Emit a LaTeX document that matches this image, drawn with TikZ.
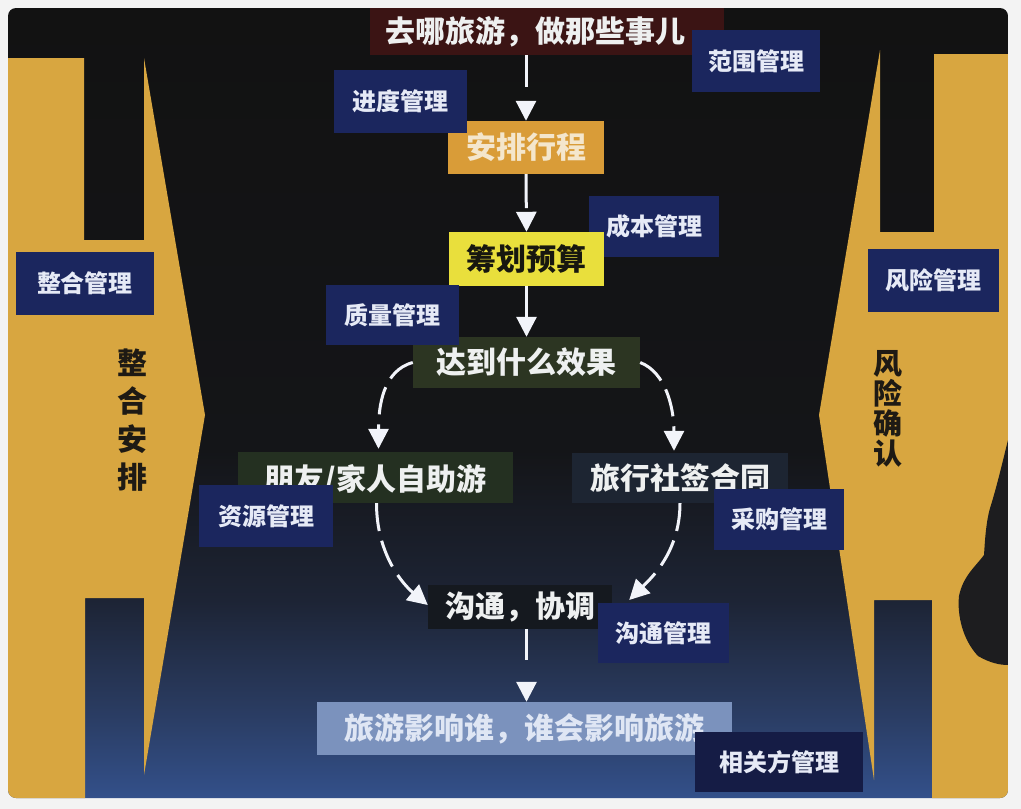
\documentclass[tikz,border=0pt]{standalone}
\usepackage{fontspec}
\setmainfont{Noto Sans CJK SC}
\usetikzlibrary{arrows.meta}
\definecolor{pagegray}{HTML}{F3F3F3}
\definecolor{scrtop}{HTML}{121212}
\definecolor{scrmid}{HTML}{141518}
\definecolor{scrlow}{HTML}{1D2435}
\definecolor{scrlow2}{HTML}{293A5E}
\definecolor{scrbot}{HTML}{33508A}
\definecolor{yel}{HTML}{D8A640}
\definecolor{vtxt}{HTML}{1E1A14}
\definecolor{mgblue}{HTML}{1B265E}
\definecolor{mgdark}{HTML}{151C45}
\definecolor{mgtext}{HTML}{E6EAF6}
\definecolor{topbox}{HTML}{3B1414}
\definecolor{orangebox}{HTML}{D99C38}
\definecolor{orangetxt}{HTML}{F4E6CC}
\definecolor{yelbox}{HTML}{E9DF3C}
\definecolor{yeltxt}{HTML}{17170F}
\definecolor{effbox}{HTML}{2C3522}
\definecolor{friendbox}{HTML}{243021}
\definecolor{agencybox}{HTML}{1D2532}
\definecolor{commbox}{HTML}{15191F}
\definecolor{stakebox}{HTML}{7B92BD}
\definecolor{staketxt}{HTML}{DFE6F4}
\definecolor{lighttxt}{HTML}{EEF0F0}
\definecolor{arrw}{HTML}{F2F4FA}
\definecolor{person}{HTML}{1D1D1F}
\pgfdeclareverticalshading{screenshade}{100bp}{color(0bp)=(scrbot); color(25bp)=(scrbot); color(31bp)=(scrlow2); color(37.5bp)=(scrlow); color(47bp)=(scrmid); color(75bp)=(scrtop); color(100bp)=(scrtop)}
\begin{document}
\begin{tikzpicture}[x=1pt,y=-1pt,
  mg/.style={fill=mgblue, text=mgtext, font=\bfseries\fontsize{24}{24}\selectfont, inner sep=0pt, minimum height=62pt},
  mainbox/.style={inner sep=0pt, font=\bfseries\fontsize{30}{30}\selectfont},
  flow/.style={draw=arrw, line width=3pt, dash pattern=on 28pt off 10pt, -{Triangle[width=20pt,length=20pt]}},
  solidflow/.style={draw=arrw, line width=3pt, -{Triangle[width=20pt,length=20pt]}},
  vtext/.style={text=vtxt, font=\bfseries\fontsize{30}{38}\selectfont, align=center, inner sep=0pt}
]
\useasboundingbox (0,0) rectangle (1021,809);
\fill[pagegray] (0,0) rectangle (1021,809);
\begin{scope}
\clip[rounded corners=8pt] (8,8) rectangle (1008,798);
\shade[shading=screenshade] (8,8) rectangle (1008,798);
% left yellow arrow shape
\fill[yel] (8,58) -- (84,58) -- (84,240) -- (144,240) -- (144,58) -- (205,415) -- (144,775) -- (144,598) -- (85,598) -- (85,798) -- (8,798) -- cycle;
% right yellow arrow shape
\fill[yel] (1008,54) -- (934,54) -- (934,232) -- (880,232) -- (880,50) -- (819,415) -- (874,780) -- (874,600) -- (932,600) -- (932,798) -- (1008,798) -- cycle;
% presenter silhouette at the right edge
\fill[person] (1008,440) .. controls (1003,460) and (998,482) .. (991,505) .. controls (986,520) and (985,540) .. (984,555) .. controls (976,566) and (963,576) .. (959,596) .. controls (957,616) and (963,640) .. (978,656) .. controls (990,663) and (1000,665) .. (1008,665) -- cycle;
\end{scope}

% vertical texts
\node[vtext] (zhenghe) at (132,420) {整\\合\\安\\排};
\node[vtext, font=\bfseries\fontsize{29}{30}\selectfont] (fengxian) at (888,409) {风\\险\\确\\认};

% main flow nodes
\node[mainbox, fill=topbox, text=lighttxt, minimum height=47pt, inner xsep=15pt, text width=324pt, align=left] (top) at (547,31.5) {去哪旅游，做那些事儿};
\node[mainbox, fill=orangebox, text=orangetxt, minimum width=156pt, minimum height=53pt] (anpai) at (526,147.5) {安排行程};
\node[mg, minimum width=130pt, minimum height=61pt] (chengben) at (654,226.5) {成本管理};
\node[mainbox, fill=yelbox, text=yeltxt, minimum width=155pt, minimum height=54pt] (budget) at (526.5,259) {筹划预算};
\node[mainbox, fill=effbox, text=lighttxt, minimum width=227pt, minimum height=51pt] (eff) at (526.5,362.5) {达到什么效果};
\node[mainbox, fill=friendbox, text=lighttxt, minimum width=275pt, minimum height=51pt, text depth=0pt] (friend) at (375.5,477.5) {朋友/家人自助游};
\node[mainbox, fill=agencybox, text=lighttxt, minimum width=216pt, minimum height=50pt] (agency) at (680,478) {旅行社签合同};
\node[mainbox, fill=commbox, text=lighttxt, minimum width=184pt, minimum height=44pt] (comm) at (520,607) {沟通，协调};
\node[mainbox, fill=stakebox, text=staketxt, minimum width=415pt, minimum height=53pt] (stake) at (524.5,728.5) {旅游影响谁，谁会影响旅游};

% connectors
\draw[flow, dash pattern=on 32pt off 20pt] (anpai.north |- top.south) -- (anpai.north);
\draw[flow, dash pattern=on 34pt off 20pt] (anpai.south) -- (budget.north);
\draw[solidflow] (budget.south) -- (eff.north);
\draw[flow] (eff.west) .. controls +(-30,8) and +(0,-42) .. ([xshift=3pt,yshift=3pt]friend.north);
\draw[flow] (eff.east) .. controls +(26,10) and +(0,-42) .. ([xshift=-6pt,yshift=2pt]agency.north);
\draw[flow] ([xshift=1pt]friend.south) .. controls +(0,52) and +(-24,-20) .. ([xshift=0pt,yshift=2pt]comm.west);
\draw[flow] (agency.south) .. controls +(0,50) and +(20,-20) .. ([xshift=17pt,yshift=7pt]comm.east);
\draw[flow, dash pattern=on 31pt off 25pt] ([xshift=2pt]stake.north |- comm.south) -- ([xshift=2pt]stake.north);

% management boxes
\node[mg, minimum width=128pt] (fanwei) at (756,61) {范围管理};
\node[mg, minimum width=133pt, minimum height=63pt] (jindu) at (400.5,101.5) {进度管理};
\node[mg, minimum width=138pt, minimum height=63pt] (zhengheg) at (85,283.5) {整合管理};
\node[mg, minimum width=131pt, minimum height=63pt] (fengxiang) at (933.5,280.5) {风险管理};
\node[mg, minimum width=133pt, minimum height=60pt] (zhiliang) at (392.5,315) {质量管理};
\node[mg, minimum width=134pt] (ziyuan) at (266,516) {资源管理};
\node[mg, minimum width=130pt, minimum height=61pt] (caigou) at (779,519.5) {采购管理};
\node[mg, minimum width=131pt, minimum height=60pt] (goutong) at (663.5,633) {沟通管理};
\node[mg, fill=mgdark, minimum width=168pt, minimum height=60pt] (xiangguan) at (779,762) {相关方管理};
\end{tikzpicture}
\end{document}
